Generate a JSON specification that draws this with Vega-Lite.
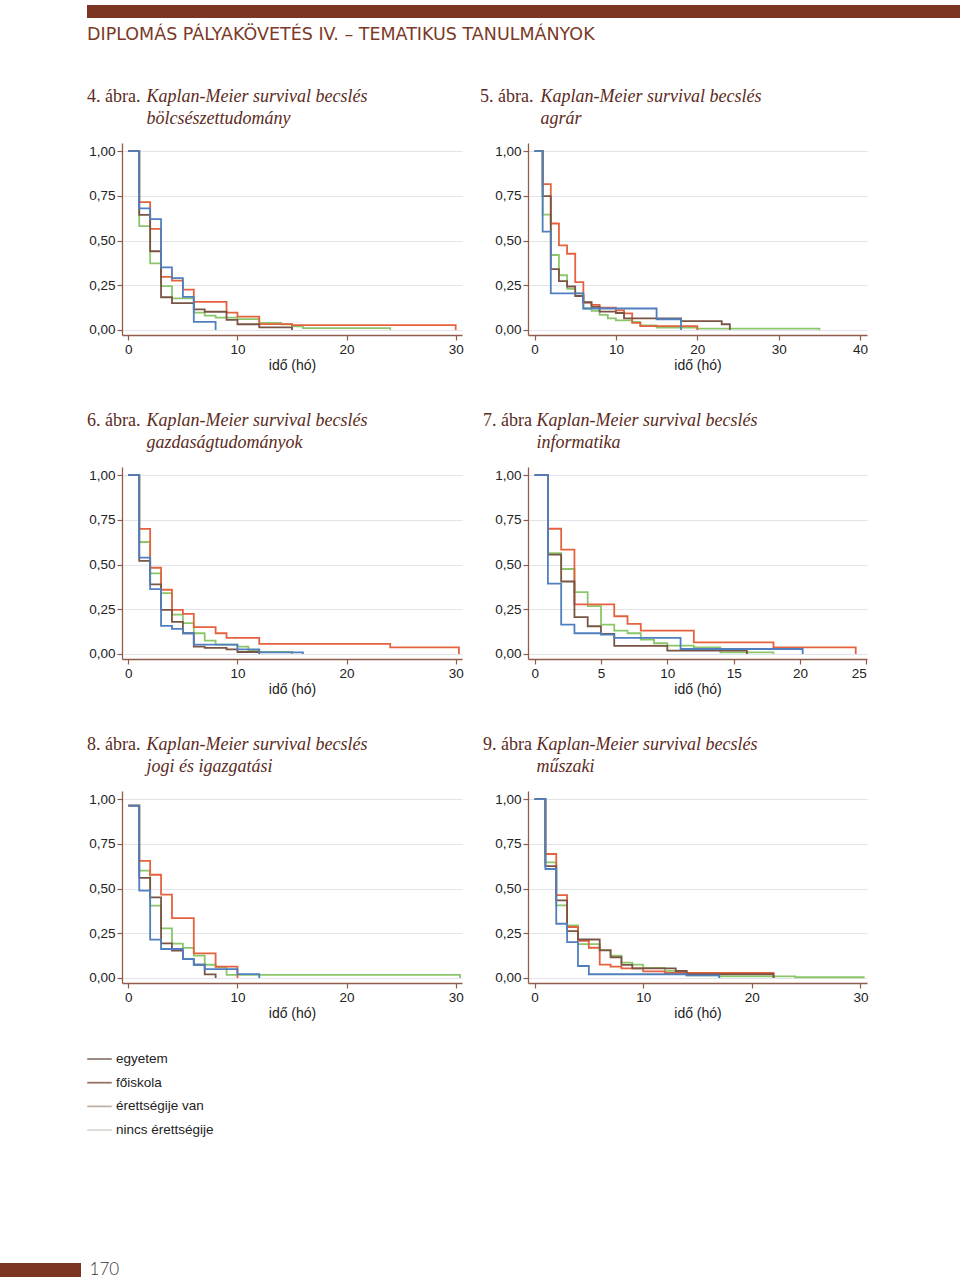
{
  "$schema": "https://vega.github.io/schema/vega-lite/v6.json",
  "background": "white",
  "padding": {"left": 0, "top": 5, "right": 0, "bottom": 0},
  "spacing": 44,
  "config": {
    "view": {"stroke": null},
    "font": "Liberation Sans",
    "axis": {"domainColor": "#8f5d4c", "domainWidth": 1.3, "tickColor": "#8f5d4c", "tickWidth": 1.2, "tickSize": 5, "labelFont": "Liberation Sans", "labelFontSize": 13.5, "labelColor": "#222222", "titleFont": "Liberation Sans", "titleFontSize": 14, "titleFontWeight": "normal", "titleColor": "#222222", "gridColor": "#e1e4ea", "gridWidth": 1},
    "axisX": {"grid": false, "labelPadding": 2, "titlePadding": 3},
    "axisY": {"grid": true, "labelPadding": 2, "titleAngle": 0, "titleAlign": "left", "titleBaseline": "top", "titleFont": "Liberation Serif", "titleFontStyle": "italic", "titleFontSize": 18, "titleFontWeight": "normal", "titleColor": "#5b2b22", "titleLineHeight": 22, "titleY": -56},
    "title": {"anchor": "start", "frame": "group", "font": "Liberation Serif", "fontSize": 18, "fontWeight": "normal", "color": "#5b2b22", "baseline": "top", "offset": -18, "dy": 0.5},
    "line": {"interpolate": "step-after", "strokeWidth": 1.8}
  },
  "datasets": {
    "km": [
      {"p":1,"g":"nincs érettségije","t":0,"s":1},{"p":1,"g":"nincs érettségije","t":1,"s":0.58},{"p":1,"g":"nincs érettségije","t":2,"s":0.372},{"p":1,"g":"nincs érettségije","t":3,"s":0.245},{"p":1,"g":"nincs érettségije","t":4,"s":0.177},{"p":1,"g":"nincs érettségije","t":6,"s":0.097},{"p":1,"g":"nincs érettségije","t":7,"s":0.08},{"p":1,"g":"nincs érettségije","t":8,"s":0.069},{"p":1,"g":"nincs érettségije","t":10,"s":0.061},{"p":1,"g":"nincs érettségije","t":12,"s":0.04},{"p":1,"g":"nincs érettségije","t":14,"s":0.032},{"p":1,"g":"nincs érettségije","t":15,"s":0.02},{"p":1,"g":"nincs érettségije","t":16,"s":0.01},{"p":1,"g":"nincs érettségije","t":24,"s":0},
      {"p":1,"g":"érettségije van","t":0,"s":1},{"p":1,"g":"érettségije van","t":1,"s":0.715},{"p":1,"g":"érettségije van","t":2,"s":0.565},{"p":1,"g":"érettségije van","t":3,"s":0.297},{"p":1,"g":"érettségije van","t":4,"s":0.276},{"p":1,"g":"érettségije van","t":5,"s":0.226},{"p":1,"g":"érettségije van","t":6,"s":0.157},{"p":1,"g":"érettségije van","t":9,"s":0.097},{"p":1,"g":"érettségije van","t":10,"s":0.075},{"p":1,"g":"érettségije van","t":12,"s":0.033},{"p":1,"g":"érettségije van","t":15,"s":0.027},{"p":1,"g":"érettségije van","t":30,"s":0},
      {"p":1,"g":"egyetem","t":0,"s":1},{"p":1,"g":"egyetem","t":1,"s":0.643},{"p":1,"g":"egyetem","t":2,"s":0.44},{"p":1,"g":"egyetem","t":3,"s":0.183},{"p":1,"g":"egyetem","t":4,"s":0.15},{"p":1,"g":"egyetem","t":6,"s":0.115},{"p":1,"g":"egyetem","t":7,"s":0.102},{"p":1,"g":"egyetem","t":9,"s":0.056},{"p":1,"g":"egyetem","t":10,"s":0.032},{"p":1,"g":"egyetem","t":12,"s":0.015},{"p":1,"g":"egyetem","t":15,"s":0},
      {"p":1,"g":"főiskola","t":0,"s":1},{"p":1,"g":"főiskola","t":1,"s":0.68},{"p":1,"g":"főiskola","t":2,"s":0.62},{"p":1,"g":"főiskola","t":3,"s":0.35},{"p":1,"g":"főiskola","t":4,"s":0.29},{"p":1,"g":"főiskola","t":5,"s":0.185},{"p":1,"g":"főiskola","t":6,"s":0.045},{"p":1,"g":"főiskola","t":8,"s":0},

      {"p":2,"g":"nincs érettségije","t":0,"s":1},{"p":2,"g":"nincs érettségije","t":1,"s":0.645},{"p":2,"g":"nincs érettségije","t":2,"s":0.419},{"p":2,"g":"nincs érettségije","t":3,"s":0.306},{"p":2,"g":"nincs érettségije","t":4,"s":0.23},{"p":2,"g":"nincs érettségije","t":5,"s":0.205},{"p":2,"g":"nincs érettségije","t":6,"s":0.12},{"p":2,"g":"nincs érettségije","t":7,"s":0.107},{"p":2,"g":"nincs érettségije","t":8,"s":0.084},{"p":2,"g":"nincs érettségije","t":9,"s":0.065},{"p":2,"g":"nincs érettségije","t":10,"s":0.054},{"p":2,"g":"nincs érettségije","t":12,"s":0.045},{"p":2,"g":"nincs érettségije","t":13,"s":0.026},{"p":2,"g":"nincs érettségije","t":15,"s":0.013},{"p":2,"g":"nincs érettségije","t":20,"s":0.008},{"p":2,"g":"nincs érettségije","t":35,"s":0},
      {"p":2,"g":"érettségije van","t":0,"s":1},{"p":2,"g":"érettségije van","t":1,"s":0.815},{"p":2,"g":"érettségije van","t":2,"s":0.595},{"p":2,"g":"érettségije van","t":3,"s":0.473},{"p":2,"g":"érettségije van","t":4,"s":0.426},{"p":2,"g":"érettségije van","t":5,"s":0.267},{"p":2,"g":"érettségije van","t":6,"s":0.153},{"p":2,"g":"érettségije van","t":7,"s":0.14},{"p":2,"g":"érettségije van","t":8,"s":0.125},{"p":2,"g":"érettségije van","t":10,"s":0.11},{"p":2,"g":"érettségije van","t":11,"s":0.093},{"p":2,"g":"érettségije van","t":12,"s":0.04},{"p":2,"g":"érettségije van","t":13,"s":0.022},{"p":2,"g":"érettségije van","t":20,"s":0},
      {"p":2,"g":"egyetem","t":0,"s":1},{"p":2,"g":"egyetem","t":1,"s":0.748},{"p":2,"g":"egyetem","t":2,"s":0.34},{"p":2,"g":"egyetem","t":3,"s":0.273},{"p":2,"g":"egyetem","t":4,"s":0.243},{"p":2,"g":"egyetem","t":5,"s":0.19},{"p":2,"g":"egyetem","t":6,"s":0.155},{"p":2,"g":"egyetem","t":7,"s":0.129},{"p":2,"g":"egyetem","t":8,"s":0.103},{"p":2,"g":"egyetem","t":10,"s":0.095},{"p":2,"g":"egyetem","t":11,"s":0.065},{"p":2,"g":"egyetem","t":18,"s":0.05},{"p":2,"g":"egyetem","t":23,"s":0.032},{"p":2,"g":"egyetem","t":24,"s":0},
      {"p":2,"g":"főiskola","t":0,"s":1},{"p":2,"g":"főiskola","t":1,"s":0.55},{"p":2,"g":"főiskola","t":2,"s":0.205},{"p":2,"g":"főiskola","t":6,"s":0.12},{"p":2,"g":"főiskola","t":15,"s":0.06},{"p":2,"g":"főiskola","t":18,"s":0},

      {"p":3,"g":"nincs érettségije","t":0,"s":1},{"p":3,"g":"nincs érettségije","t":1,"s":0.626},{"p":3,"g":"nincs érettségije","t":2,"s":0.45},{"p":3,"g":"nincs érettségije","t":3,"s":0.34},{"p":3,"g":"nincs érettségije","t":4,"s":0.22},{"p":3,"g":"nincs érettségije","t":5,"s":0.172},{"p":3,"g":"nincs érettségije","t":6,"s":0.116},{"p":3,"g":"nincs érettségije","t":7,"s":0.075},{"p":3,"g":"nincs érettségije","t":8,"s":0.052},{"p":3,"g":"nincs érettségije","t":10,"s":0.041},{"p":3,"g":"nincs érettségije","t":11,"s":0.022},{"p":3,"g":"nincs érettségije","t":12,"s":0.011},{"p":3,"g":"nincs érettségije","t":15,"s":0},
      {"p":3,"g":"érettségije van","t":0,"s":1},{"p":3,"g":"érettségije van","t":1,"s":0.699},{"p":3,"g":"érettségije van","t":2,"s":0.482},{"p":3,"g":"érettségije van","t":3,"s":0.359},{"p":3,"g":"érettségije van","t":4,"s":0.247},{"p":3,"g":"érettségije van","t":5,"s":0.224},{"p":3,"g":"érettségije van","t":6,"s":0.15},{"p":3,"g":"érettségije van","t":8,"s":0.116},{"p":3,"g":"érettségije van","t":9,"s":0.09},{"p":3,"g":"érettségije van","t":12,"s":0.056},{"p":3,"g":"érettségije van","t":24,"s":0.037},{"p":3,"g":"érettségije van","t":30.3,"s":0},
      {"p":3,"g":"egyetem","t":0,"s":1},{"p":3,"g":"egyetem","t":1,"s":0.52},{"p":3,"g":"egyetem","t":2,"s":0.389},{"p":3,"g":"egyetem","t":3,"s":0.247},{"p":3,"g":"egyetem","t":4,"s":0.18},{"p":3,"g":"egyetem","t":5,"s":0.116},{"p":3,"g":"egyetem","t":6,"s":0.041},{"p":3,"g":"egyetem","t":7,"s":0.034},{"p":3,"g":"egyetem","t":9,"s":0.026},{"p":3,"g":"egyetem","t":10,"s":0.011},{"p":3,"g":"egyetem","t":12,"s":0},
      {"p":3,"g":"főiskola","t":0,"s":1},{"p":3,"g":"főiskola","t":1,"s":0.538},{"p":3,"g":"főiskola","t":2,"s":0.363},{"p":3,"g":"főiskola","t":3,"s":0.157},{"p":3,"g":"főiskola","t":4,"s":0.14},{"p":3,"g":"főiskola","t":5,"s":0.116},{"p":3,"g":"főiskola","t":6,"s":0.052},{"p":3,"g":"főiskola","t":10,"s":0.026},{"p":3,"g":"főiskola","t":12,"s":0.009},{"p":3,"g":"főiskola","t":16,"s":0},

      {"p":4,"g":"nincs érettségije","t":0,"s":1},{"p":4,"g":"nincs érettségije","t":1,"s":0.564},{"p":4,"g":"nincs érettségije","t":2,"s":0.475},{"p":4,"g":"nincs érettségije","t":3,"s":0.346},{"p":4,"g":"nincs érettségije","t":4,"s":0.267},{"p":4,"g":"nincs érettségije","t":5,"s":0.164},{"p":4,"g":"nincs érettségije","t":6,"s":0.131},{"p":4,"g":"nincs érettségije","t":7,"s":0.116},{"p":4,"g":"nincs érettségije","t":8,"s":0.08},{"p":4,"g":"nincs érettségije","t":9,"s":0.06},{"p":4,"g":"nincs érettségije","t":10,"s":0.047},{"p":4,"g":"nincs érettségije","t":12,"s":0.037},{"p":4,"g":"nincs érettségije","t":14,"s":0.009},{"p":4,"g":"nincs érettségije","t":18,"s":0},
      {"p":4,"g":"érettségije van","t":0,"s":1},{"p":4,"g":"érettségije van","t":1,"s":0.7},{"p":4,"g":"érettségije van","t":2,"s":0.583},{"p":4,"g":"érettségije van","t":3,"s":0.277},{"p":4,"g":"érettségije van","t":6,"s":0.211},{"p":4,"g":"érettségije van","t":7,"s":0.168},{"p":4,"g":"érettségije van","t":8,"s":0.131},{"p":4,"g":"érettségije van","t":12,"s":0.065},{"p":4,"g":"érettségije van","t":18,"s":0.037},{"p":4,"g":"érettségije van","t":24.2,"s":0},
      {"p":4,"g":"egyetem","t":0,"s":1},{"p":4,"g":"egyetem","t":1,"s":0.555},{"p":4,"g":"egyetem","t":2,"s":0.405},{"p":4,"g":"egyetem","t":3,"s":0.206},{"p":4,"g":"egyetem","t":4,"s":0.155},{"p":4,"g":"egyetem","t":5,"s":0.112},{"p":4,"g":"egyetem","t":6,"s":0.045},{"p":4,"g":"egyetem","t":10,"s":0.019},{"p":4,"g":"egyetem","t":16,"s":0},
      {"p":4,"g":"főiskola","t":0,"s":1},{"p":4,"g":"főiskola","t":1,"s":0.393},{"p":4,"g":"főiskola","t":2,"s":0.164},{"p":4,"g":"főiskola","t":3,"s":0.116},{"p":4,"g":"főiskola","t":5,"s":0.108},{"p":4,"g":"főiskola","t":6,"s":0.09},{"p":4,"g":"főiskola","t":11,"s":0.028},{"p":4,"g":"főiskola","t":20.2,"s":0},

      {"p":5,"g":"nincs érettségije","t":0,"s":0.963},{"p":5,"g":"nincs érettségije","t":1,"s":0.6},{"p":5,"g":"nincs érettségije","t":2,"s":0.404},{"p":5,"g":"nincs érettségije","t":3,"s":0.277},{"p":5,"g":"nincs érettségije","t":4,"s":0.192},{"p":5,"g":"nincs érettségije","t":5,"s":0.168},{"p":5,"g":"nincs érettségije","t":6,"s":0.125},{"p":5,"g":"nincs érettségije","t":7,"s":0.074},{"p":5,"g":"nincs érettségije","t":8,"s":0.061},{"p":5,"g":"nincs érettségije","t":9,"s":0.017},{"p":5,"g":"nincs érettségije","t":30.4,"s":0},
      {"p":5,"g":"érettségije van","t":0,"s":0.963},{"p":5,"g":"érettségije van","t":1,"s":0.655},{"p":5,"g":"érettségije van","t":2,"s":0.577},{"p":5,"g":"érettségije van","t":3,"s":0.466},{"p":5,"g":"érettségije van","t":4,"s":0.335},{"p":5,"g":"érettségije van","t":6,"s":0.138},{"p":5,"g":"érettségije van","t":8,"s":0.063},{"p":5,"g":"érettségije van","t":10,"s":0},
      {"p":5,"g":"egyetem","t":0,"s":0.963},{"p":5,"g":"egyetem","t":1,"s":0.559},{"p":5,"g":"egyetem","t":2,"s":0.45},{"p":5,"g":"egyetem","t":3,"s":0.194},{"p":5,"g":"egyetem","t":4,"s":0.153},{"p":5,"g":"egyetem","t":5,"s":0.106},{"p":5,"g":"egyetem","t":6,"s":0.074},{"p":5,"g":"egyetem","t":7,"s":0.02},{"p":5,"g":"egyetem","t":8,"s":0},
      {"p":5,"g":"főiskola","t":0,"s":0.963},{"p":5,"g":"főiskola","t":1,"s":0.488},{"p":5,"g":"főiskola","t":2,"s":0.214},{"p":5,"g":"főiskola","t":3,"s":0.162},{"p":5,"g":"főiskola","t":5,"s":0.106},{"p":5,"g":"főiskola","t":6,"s":0.074},{"p":5,"g":"főiskola","t":7,"s":0.05},{"p":5,"g":"főiskola","t":10,"s":0.022},{"p":5,"g":"főiskola","t":12,"s":0},

      {"p":6,"g":"nincs érettségije","t":0,"s":1},{"p":6,"g":"nincs érettségije","t":1,"s":0.646},{"p":6,"g":"nincs érettségije","t":2,"s":0.406},{"p":6,"g":"nincs érettségije","t":3,"s":0.294},{"p":6,"g":"nincs érettségije","t":4,"s":0.189},{"p":6,"g":"nincs érettségije","t":6,"s":0.157},{"p":6,"g":"nincs érettségije","t":7,"s":0.125},{"p":6,"g":"nincs érettségije","t":8,"s":0.086},{"p":6,"g":"nincs érettségije","t":9,"s":0.075},{"p":6,"g":"nincs érettségije","t":10,"s":0.056},{"p":6,"g":"nincs érettségije","t":12,"s":0.04},{"p":6,"g":"nincs érettségije","t":14,"s":0.015},{"p":6,"g":"nincs érettségije","t":17,"s":0.009},{"p":6,"g":"nincs érettségije","t":24,"s":0.004},{"p":6,"g":"nincs érettségije","t":30.3,"s":0},
      {"p":6,"g":"érettségije van","t":0,"s":1},{"p":6,"g":"érettségije van","t":1,"s":0.693},{"p":6,"g":"érettségije van","t":2,"s":0.463},{"p":6,"g":"érettségije van","t":3,"s":0.285},{"p":6,"g":"érettségije van","t":4,"s":0.208},{"p":6,"g":"érettségije van","t":5,"s":0.169},{"p":6,"g":"érettségije van","t":6,"s":0.075},{"p":6,"g":"érettségije van","t":7,"s":0.064},{"p":6,"g":"érettségije van","t":8,"s":0.054},{"p":6,"g":"érettségije van","t":10,"s":0.037},{"p":6,"g":"érettségije van","t":12,"s":0.028},{"p":6,"g":"érettségije van","t":22,"s":0},
      {"p":6,"g":"egyetem","t":0,"s":1},{"p":6,"g":"egyetem","t":1,"s":0.625},{"p":6,"g":"egyetem","t":2,"s":0.434},{"p":6,"g":"egyetem","t":3,"s":0.262},{"p":6,"g":"egyetem","t":4,"s":0.215},{"p":6,"g":"egyetem","t":6,"s":0.154},{"p":6,"g":"egyetem","t":7,"s":0.116},{"p":6,"g":"egyetem","t":8,"s":0.073},{"p":6,"g":"egyetem","t":9,"s":0.054},{"p":6,"g":"egyetem","t":13,"s":0.039},{"p":6,"g":"egyetem","t":14,"s":0.021},{"p":6,"g":"egyetem","t":22,"s":0},
      {"p":6,"g":"főiskola","t":0,"s":1},{"p":6,"g":"főiskola","t":1,"s":0.609},{"p":6,"g":"főiskola","t":2,"s":0.303},{"p":6,"g":"főiskola","t":3,"s":0.2},{"p":6,"g":"főiskola","t":4,"s":0.067},{"p":6,"g":"főiskola","t":5,"s":0.021},{"p":6,"g":"főiskola","t":14,"s":0.015},{"p":6,"g":"főiskola","t":17,"s":0}
    ]
  },
  "resolve": {"scale": {"color": "independent"}, "legend": {"color": "independent"}},
  "vconcat": [
    {
      "hconcat": [
        {"width": 21, "height": 13, "data": {"values": [{"k": "a"}]}, "mark": {"type": "point", "opacity": 0, "size": 1}},
        {
          "width": 873, "height": 13,
          "data": {"values": [{"k": "a"}]},
          "mark": {"type": "point", "opacity": 0, "size": 1},
          "view": {"fill": "#7b3522", "stroke": null},
          "title": {"text": "DIPLOMÁS PÁLYAKÖVETÉS IV. – TEMATIKUS TANULMÁNYOK", "orient": "bottom", "anchor": "start", "frame": "group", "baseline": "top", "font": "DejaVu Sans", "fontSize": 17.5, "fontWeight": "normal", "color": "#7b3a28", "offset": 7.5, "dx": 0, "dy": 0}
        }
      ],
      "spacing": 66, "bounds": "flush"
    },
    {
      "spacing": 24.5,
      "resolve": {"scale": {"color": "independent"}, "legend": {"color": "independent"}},
      "vconcat": [
        {
          "spacing": 38,
          "resolve": {"scale": {"x": "independent", "y": "independent"}},
          "vconcat": [
            {
              "hconcat": [
                {"width": 56, "height": 192, "data": {"values": [{"k": "a"}]}, "mark": {"type": "point", "opacity": 0, "size": 1}},
                {
                  "width": 340, "height": 192,
                  "data": {"name": "km"},
                  "transform": [{"filter": "datum.p == 1"}],
                  "title": {"text": "4. ábra.", "dx": -35},
                  "mark": {"type": "line"},
                  "encoding": {
                    "x": {"field": "t", "type": "quantitative", "scale": {"domain": [-0.58, 30.58], "nice": false, "zero": false}, "axis": {"values": [0, 10, 20, 30], "title": "idő (hó)"}},
                    "y": {"field": "s", "type": "quantitative", "scale": {"domain": [-0.028, 1.045], "nice": false}, "axis": {"values": [0, 0.25, 0.5, 0.75, 1], "labelExpr": "replace(format(datum.value, '.2f'), '.', ',')", "title": ["Kaplan-Meier survival becslés", "bölcsészettudomány"], "titleX": 24}},
                    "color": {"field": "g", "type": "nominal", "scale": {"domain": ["egyetem", "főiskola", "érettségije van", "nincs érettségije"], "range": ["#7a5444", "#4f7fbf", "#e5623e", "#8bc66b"]}, "legend": null}
                  }
                },
                {
                  "width": 339, "height": 192,
                  "data": {"name": "km"},
                  "transform": [{"filter": "datum.p == 2"}],
                  "title": {"text": "5. ábra.", "dx": -48},
                  "mark": {"type": "line"},
                  "encoding": {
                    "x": {"field": "t", "type": "quantitative", "scale": {"domain": [-0.8, 40.85], "nice": false, "zero": false}, "axis": {"values": [0, 10, 20, 30, 40], "title": "idő (hó)"}},
                    "y": {"field": "s", "type": "quantitative", "scale": {"domain": [-0.028, 1.045], "nice": false}, "axis": {"values": [0, 0.25, 0.5, 0.75, 1], "labelExpr": "replace(format(datum.value, '.2f'), '.', ',')", "title": ["Kaplan-Meier survival becslés", "agrár"], "titleX": 12}},
                    "color": {"field": "g", "type": "nominal", "scale": {"domain": ["egyetem", "főiskola", "érettségije van", "nincs érettségije"], "range": ["#7a5444", "#4f7fbf", "#e5623e", "#8bc66b"]}, "legend": null}
                  }
                }
              ],
              "spacing": 66, "bounds": "flush",
              "resolve": {"scale": {"x": "independent", "y": "independent"}}
            },
            {
              "hconcat": [
                {"width": 56, "height": 192, "data": {"values": [{"k": "a"}]}, "mark": {"type": "point", "opacity": 0, "size": 1}},
                {
                  "width": 340, "height": 192,
                  "data": {"name": "km"},
                  "transform": [{"filter": "datum.p == 3"}],
                  "title": {"text": "6. ábra.", "dx": -35},
                  "mark": {"type": "line"},
                  "encoding": {
                    "x": {"field": "t", "type": "quantitative", "scale": {"domain": [-0.58, 30.58], "nice": false, "zero": false}, "axis": {"values": [0, 10, 20, 30], "title": "idő (hó)"}},
                    "y": {"field": "s", "type": "quantitative", "scale": {"domain": [-0.028, 1.045], "nice": false}, "axis": {"values": [0, 0.25, 0.5, 0.75, 1], "labelExpr": "replace(format(datum.value, '.2f'), '.', ',')", "title": ["Kaplan-Meier survival becslés", "gazdaságtudományok"], "titleX": 24}},
                    "color": {"field": "g", "type": "nominal", "scale": {"domain": ["egyetem", "főiskola", "érettségije van", "nincs érettségije"], "range": ["#7a5444", "#4f7fbf", "#e5623e", "#8bc66b"]}, "legend": null}
                  }
                },
                {
                  "width": 339, "height": 192,
                  "data": {"name": "km"},
                  "transform": [{"filter": "datum.p == 4"}],
                  "title": {"text": "7. ábra", "dx": -45},
                  "mark": {"type": "line"},
                  "encoding": {
                    "x": {"field": "t", "type": "quantitative", "scale": {"domain": [-0.5, 25.05], "nice": false, "zero": false}, "axis": {"values": [0, 5, 10, 15, 20, 25], "title": "idő (hó)"}},
                    "y": {"field": "s", "type": "quantitative", "scale": {"domain": [-0.028, 1.045], "nice": false}, "axis": {"values": [0, 0.25, 0.5, 0.75, 1], "labelExpr": "replace(format(datum.value, '.2f'), '.', ',')", "title": ["Kaplan-Meier survival becslés", "informatika"], "titleX": 8}},
                    "color": {"field": "g", "type": "nominal", "scale": {"domain": ["egyetem", "főiskola", "érettségije van", "nincs érettségije"], "range": ["#7a5444", "#4f7fbf", "#e5623e", "#8bc66b"]}, "legend": null}
                  }
                }
              ],
              "spacing": 66, "bounds": "flush",
              "resolve": {"scale": {"x": "independent", "y": "independent"}}
            },
            {
              "hconcat": [
                {"width": 56, "height": 192, "data": {"values": [{"k": "a"}]}, "mark": {"type": "point", "opacity": 0, "size": 1}},
                {
                  "width": 340, "height": 192,
                  "data": {"name": "km"},
                  "transform": [{"filter": "datum.p == 5"}],
                  "title": {"text": "8. ábra.", "dx": -35},
                  "mark": {"type": "line"},
                  "encoding": {
                    "x": {"field": "t", "type": "quantitative", "scale": {"domain": [-0.58, 30.58], "nice": false, "zero": false}, "axis": {"values": [0, 10, 20, 30], "title": "idő (hó)"}},
                    "y": {"field": "s", "type": "quantitative", "scale": {"domain": [-0.028, 1.045], "nice": false}, "axis": {"values": [0, 0.25, 0.5, 0.75, 1], "labelExpr": "replace(format(datum.value, '.2f'), '.', ',')", "title": ["Kaplan-Meier survival becslés", "jogi és igazgatási"], "titleX": 24}},
                    "color": {"field": "g", "type": "nominal", "scale": {"domain": ["egyetem", "főiskola", "érettségije van", "nincs érettségije"], "range": ["#7a5444", "#4f7fbf", "#e5623e", "#8bc66b"]}, "legend": null}
                  }
                },
                {
                  "width": 339, "height": 192,
                  "data": {"name": "km"},
                  "transform": [{"filter": "datum.p == 6"}],
                  "title": {"text": "9. ábra", "dx": -45},
                  "mark": {"type": "line"},
                  "encoding": {
                    "x": {"field": "t", "type": "quantitative", "scale": {"domain": [-0.6, 30.6], "nice": false, "zero": false}, "axis": {"values": [0, 10, 20, 30], "title": "idő (hó)"}},
                    "y": {"field": "s", "type": "quantitative", "scale": {"domain": [-0.028, 1.045], "nice": false}, "axis": {"values": [0, 0.25, 0.5, 0.75, 1], "labelExpr": "replace(format(datum.value, '.2f'), '.', ',')", "title": ["Kaplan-Meier survival becslés", "műszaki"], "titleX": 8}},
                    "color": {"field": "g", "type": "nominal", "scale": {"domain": ["egyetem", "főiskola", "érettségije van", "nincs érettségije"], "range": ["#7a5444", "#4f7fbf", "#e5623e", "#8bc66b"]}, "legend": null}
                  }
                }
              ],
              "spacing": 66, "bounds": "flush",
              "resolve": {"scale": {"x": "independent", "y": "independent"}}
            }
          ]
        },
        {
          "width": 200, "height": 188.5,
          "data": {"values": [{"jel": "egyetem"}, {"jel": "főiskola"}, {"jel": "érettségije van"}, {"jel": "nincs érettségije"}]},
          "mark": {"type": "line", "strokeWidth": 1.5},
          "encoding": {"color": {"field": "jel", "type": "nominal", "scale": {"domain": ["egyetem", "főiskola", "érettségije van", "nincs érettségije"], "range": ["#8e7d74", "#957563", "#bfb1a6", "#dcd8d3"]}, "legend": {"orient": "none", "legendX": 86, "legendY": -2, "title": null, "symbolType": "stroke", "symbolSize": 600, "symbolStrokeWidth": 1.5, "labelFont": "Liberation Sans", "labelFontSize": 13.5, "labelColor": "#222222", "labelOffset": 3, "rowPadding": 3.7, "padding": 0}}},
          "view": {"stroke": null}
        },
        {
          "width": 81, "height": 14,
          "data": {"values": [{"k": "a"}]},
          "mark": {"type": "point", "opacity": 0, "size": 1},
          "view": {"fill": "#7b3522", "stroke": null},
          "title": {"text": "170", "orient": "right", "angle": 0, "align": "left", "baseline": "middle", "anchor": "middle", "offset": -21, "font": "Lato", "fontSize": 17, "fontWeight": 300, "color": "#333333", "dx": 0, "dy": 0}
        }
      ]
    }
  ]
}
